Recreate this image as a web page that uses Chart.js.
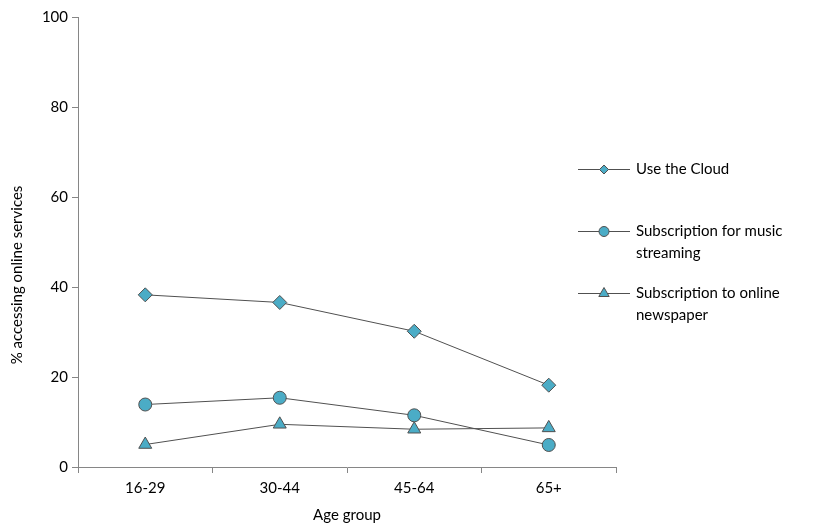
<!DOCTYPE html>
<html>
<head>
<meta charset="utf-8">
<script src="https://cdn.jsdelivr.net/npm/chart.js@4/dist/chart.umd.min.js"></script>
<style>
  html, body { margin: 0; padding: 0; background: #fff; }
  #wrap { width: 819px; height: 524px; position: relative; }
</style>
</head>
<body>
<div id="wrap"><canvas id="c" width="819" height="524"></canvas></div>
<script>
const ageGroups = ['16-29', '30-44', '45-64', '65+'];
const cloudUse = [38.3, 36.6, 30.2, 18.2];
const musicStreaming = [13.9, 15.4, 11.5, 4.9];
const onlineNewspaper = [5.0, 9.5, 8.4, 8.7];
const seriesNames = [
  ['Use the Cloud'],
  ['Subscription for music', 'streaming'],
  ['Subscription to online', 'newspaper']
];
const yTicks = [0, 20, 40, 60, 80, 100];

const FONT = 'Lato, "Open Sans", sans-serif';
const TEXT = '#000000';
const AXIS = '#868686';
const LINE = '#505050';
const FILL = '#4BACC6';

function series(label, data, style, radius) {
  return {
    label: label.join(' '),
    data: data,
    borderColor: LINE,
    borderWidth: 1,
    pointStyle: style,
    pointRadius: radius,
    pointHoverRadius: radius,
    pointBackgroundColor: FILL,
    pointBorderColor: LINE,
    pointBorderWidth: 1,
    tension: 0,
    fill: false
  };
}

// Right-hand legend: short line with the series marker, wrapped label
const sideLegend = {
  id: 'sideLegend',
  afterDraw(chart) {
    const ctx = chart.ctx;
    const rows = [
      { y: 169, style: 'rectRot', r: 4.5 },
      { y: 231, style: 'circle', r: 5 },
      { y: 293, style: 'triangle', r: 6 }
    ];
    ctx.save();
    rows.forEach((row, i) => {
      ctx.strokeStyle = LINE;
      ctx.lineWidth = 1;
      ctx.beginPath();
      ctx.moveTo(578, row.y + 0.5);
      ctx.lineTo(630, row.y + 0.5);
      ctx.stroke();
      ctx.fillStyle = FILL;
      ctx.strokeStyle = LINE;
      Chart.helpers.drawPoint(ctx, { pointStyle: row.style, radius: row.r, borderWidth: 1 }, 604, row.y + 0.5);
      ctx.fillStyle = TEXT;
      ctx.font = '15px ' + FONT;
      ctx.textBaseline = 'middle';
      ctx.textAlign = 'left';
      seriesNames[i].forEach((t, k) => ctx.fillText(t, 636, row.y + k * 22));
    });
    // vertical axis title
    ctx.translate(17, 275);
    ctx.rotate(-Math.PI / 2);
    ctx.textAlign = 'center';
    ctx.textBaseline = 'middle';
    ctx.font = '15px ' + FONT;
    ctx.fillText('% accessing online services', 0, 0);
    ctx.restore();
  }
};

new Chart(document.getElementById('c'), {
  type: 'line',
  data: {
    labels: ageGroups,
    datasets: [
      series(seriesNames[0], cloudUse, 'rectRot', 7),
      series(seriesNames[1], musicStreaming, 'circle', 6.5),
      series(seriesNames[2], onlineNewspaper, 'triangle', 7.5)
    ]
  },
  options: {
    responsive: false,
    animation: false,
    devicePixelRatio: 1,
    layout: { padding: { top: 17.5, right: 203, bottom: 0, left: 0 } },
    plugins: {
      legend: { display: false },
      tooltip: { enabled: false }
    },
    scales: {
      x: {
        offset: true,
        grid: { offset: true, drawOnChartArea: false, drawTicks: true, tickLength: 6, color: AXIS, lineWidth: 1 },
        border: { color: AXIS, width: 1 },
        ticks: { color: TEXT, font: { family: FONT, size: 15 }, padding: 6 },
        title: { display: true, text: 'Age group', color: TEXT, font: { family: FONT, size: 15 }, padding: { top: 0, bottom: 0 } },
        afterFit(scale) { scale.height = 57; }
      },
      y: {
        min: 0,
        max: 100,
        afterBuildTicks(scale) { scale.ticks = yTicks.map(v => ({ value: v })); },
        grid: { drawOnChartArea: false, drawTicks: true, tickLength: 6, color: AXIS, lineWidth: 1 },
        border: { color: AXIS, width: 1 },
        ticks: { color: TEXT, font: { family: FONT, size: 15 }, padding: 4 },
        afterFit(scale) { scale.width = 78; }
      }
    }
  },
  plugins: [sideLegend]
});
</script>
</body>
</html>
